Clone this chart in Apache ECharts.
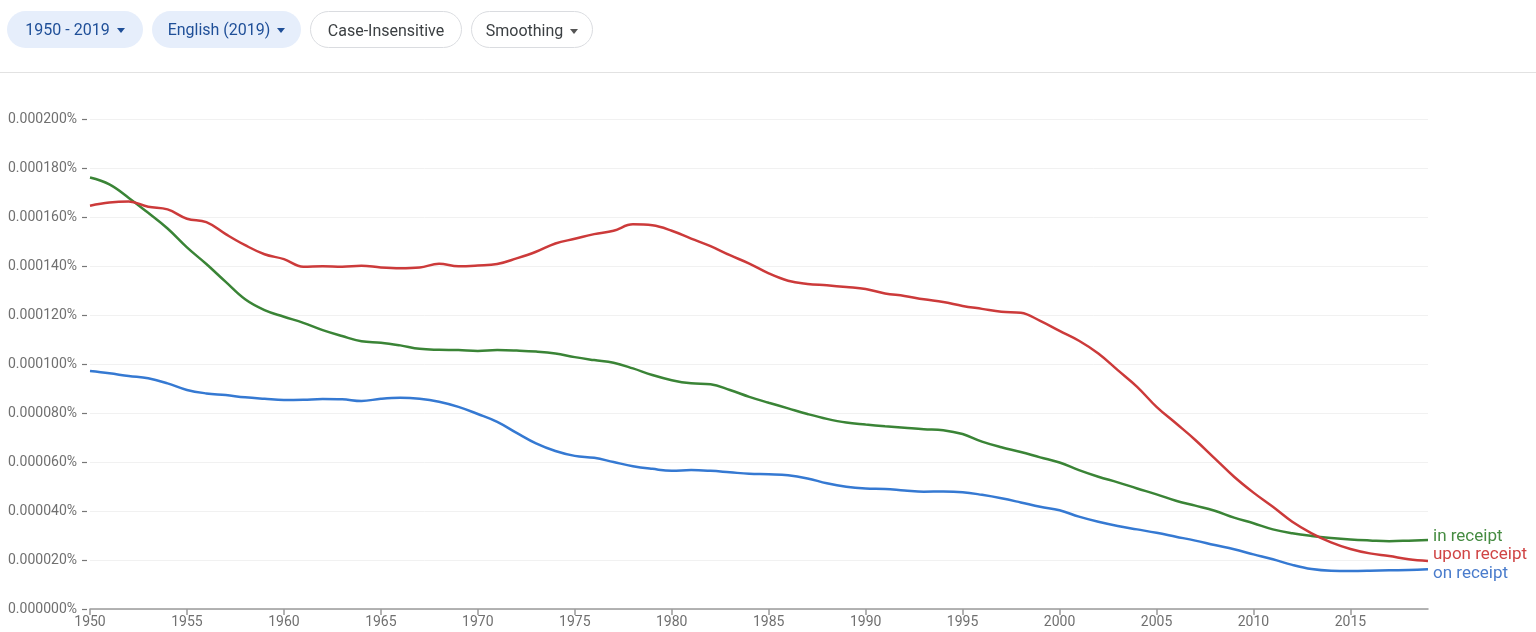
<!DOCTYPE html>
<html>
<head>
<meta charset="utf-8">
<script src="https://cdn.jsdelivr.net/npm/echarts@6/dist/echarts.min.js"></script>
<style>
  body { margin: 0; background: #fff; font-family: Roboto, "Noto Sans", sans-serif; }
  #main { width: 1536px; height: 632px; }
  .bar { position: absolute; left: 0; top: 0; width: 1536px; height: 72px; border-bottom: 1px solid #e2e2e2; }
  .chip { position: absolute; top: 11px; height: 37px; line-height: 37px; border-radius: 19px;
          font-size: 16px; box-sizing: border-box; text-align: center; }
  .chip.sel { background: #e6eefb; color: #1f4f98; }
  .chip.plain { background: #fff; color: #3c4043; border: 1px solid #dadce0; }
  .caret { display: inline-block; width: 0; height: 0; margin-left: 7px; vertical-align: middle;
           border-left: 4px solid transparent; border-right: 4px solid transparent; border-top: 5px solid currentColor; }
</style>
</head>
<body>
<div id="main"></div>
<div class="bar">
  <div class="chip sel" style="left:7px;width:136px;">1950 - 2019<span class="caret"></span></div>
  <div class="chip sel" style="left:152px;width:149px;">English (2019)<span class="caret"></span></div>
  <div class="chip plain" style="left:310px;width:152px;">Case-Insensitive</div>
  <div class="chip plain" style="left:471px;width:122px;">Smoothing<span class="caret" style="color:#555"></span></div>
</div>
<script>
  // years 1950..2019, values in millionths of a percent (1 = 0.000001%)
  const years = []
  for (let y = 1950; y <= 2019; y++) years.push(y)

  const inReceipt = [176.1, 173.3, 167.8, 161.7, 155.3, 147.6, 140.8, 133.5, 126.4, 122.0,
    119.3, 116.8, 113.8, 111.4, 109.3, 108.7, 107.6, 106.2, 105.8, 105.7,
    105.3, 105.7, 105.5, 105.1, 104.3, 102.8, 101.6, 100.5, 98.2, 95.5,
    93.4, 92.1, 91.7, 89.4, 86.6, 84.2, 81.9, 79.6, 77.6, 76.1,
    75.3, 74.6, 74.0, 73.4, 73.0, 71.4, 68.3, 66.0, 64.1, 61.9,
    59.8, 56.7, 54.0, 51.7, 49.2, 46.8, 44.2, 42.2, 40.1, 37.3,
    35.0, 32.5, 30.9, 29.8, 29.0, 28.4, 28.0, 27.7, 27.9, 28.2]

  const uponReceipt = [164.6, 165.9, 166.3, 164.2, 163.1, 159.3, 157.9, 153.0, 148.5, 144.8,
    142.8, 139.7, 139.9, 139.7, 140.1, 139.4, 139.1, 139.4, 140.9, 139.9,
    140.2, 140.8, 143.1, 145.8, 149.2, 151.1, 153.0, 154.4, 157.0, 156.6,
    154.4, 151.2, 148.1, 144.4, 141.0, 137.0, 134.0, 132.7, 132.1, 131.4,
    130.6, 128.8, 127.8, 126.4, 125.3, 123.7, 122.5, 121.3, 120.9, 117.6,
    113.5, 109.5, 104.3, 97.5, 90.7, 82.5, 75.8, 69.0, 61.5, 54.0,
    47.5, 41.7, 35.6, 30.9, 27.2, 24.5, 22.7, 21.6, 20.3, 19.6]

  const onReceipt = [97.1, 96.2, 95.1, 94.2, 92.1, 89.4, 88.0, 87.3, 86.4, 85.8,
    85.3, 85.4, 85.7, 85.6, 84.9, 85.8, 86.2, 85.8, 84.6, 82.5,
    79.6, 76.4, 71.9, 67.6, 64.5, 62.5, 61.7, 60.0, 58.3, 57.2,
    56.4, 56.7, 56.4, 55.8, 55.2, 55.0, 54.6, 53.3, 51.3, 49.9,
    49.2, 49.0, 48.4, 47.9, 48.0, 47.7, 46.6, 45.2, 43.5, 41.7,
    40.3, 37.7, 35.6, 33.9, 32.5, 31.1, 29.5, 27.9, 26.1, 24.4,
    22.3, 20.3, 18.0, 16.3, 15.6, 15.5, 15.6, 15.8, 15.9, 16.2]

  const seriesNames = ['in receipt', 'upon receipt', 'on receipt']
  const lineColors = ['#3a8436', '#cc3a3a', '#3579d2']
  const textColors = ['#468c42', '#d04545', '#4a7ccc']
  const labelOffsets = [[0, -3], [0, -6], [0, 4]]

  const chartDom = document.getElementById('main')
  const myChart = echarts.init(chartDom)

  const allData = [inReceipt, uponReceipt, onReceipt]
  const series = allData.map((vals, i) => {
    return {
      name: seriesNames[i],
      type: 'line',
      smooth: 0.4,
      showSymbol: false,
      silent: true,
      lineStyle: { width: 2.5, color: lineColors[i] },
      itemStyle: { color: lineColors[i] },
      data: years.map((y, k) => [y, vals[k]]),
      endLabel: {
        show: true,
        formatter: seriesNames[i],
        color: textColors[i],
        fontSize: 17,
        fontFamily: 'Roboto',
        distance: 5,
        offset: labelOffsets[i]
      }
    }
  })

  let option = {
    animation: false,
    backgroundColor: '#fff',
    grid: { left: 90, right: 108, top: 119, bottom: 23 },
    xAxis: {
      type: 'value',
      min: 1950,
      max: 2019,
      interval: 5,
      axisLine: { lineStyle: { color: '#9a9a9a', width: 1.5 } },
      axisTick: { length: 6, lineStyle: { color: '#9a9a9a', width: 1.5 } },
      axisLabel: {
        color: '#707070', fontSize: 14, margin: 6, fontFamily: 'Roboto', showMaxLabel: false,
        formatter: v => String(v)
      },
      splitLine: { show: false }
    },
    yAxis: {
      type: 'value',
      min: 0,
      max: 200,
      interval: 20,
      offset: 3,
      axisLine: { show: false },
      axisTick: { show: true, length: 5, lineStyle: { color: '#777', width: 1.2 } },
      axisLabel: {
        color: '#707070', fontSize: 14, margin: 10, fontFamily: 'Roboto',
        formatter: v => (v / 1e6).toFixed(6) + '%'
      },
      splitLine: { lineStyle: { color: '#f1f1f1' } }
    },
    series: series
  }

  option && myChart.setOption(option)
</script>
</body>
</html>
